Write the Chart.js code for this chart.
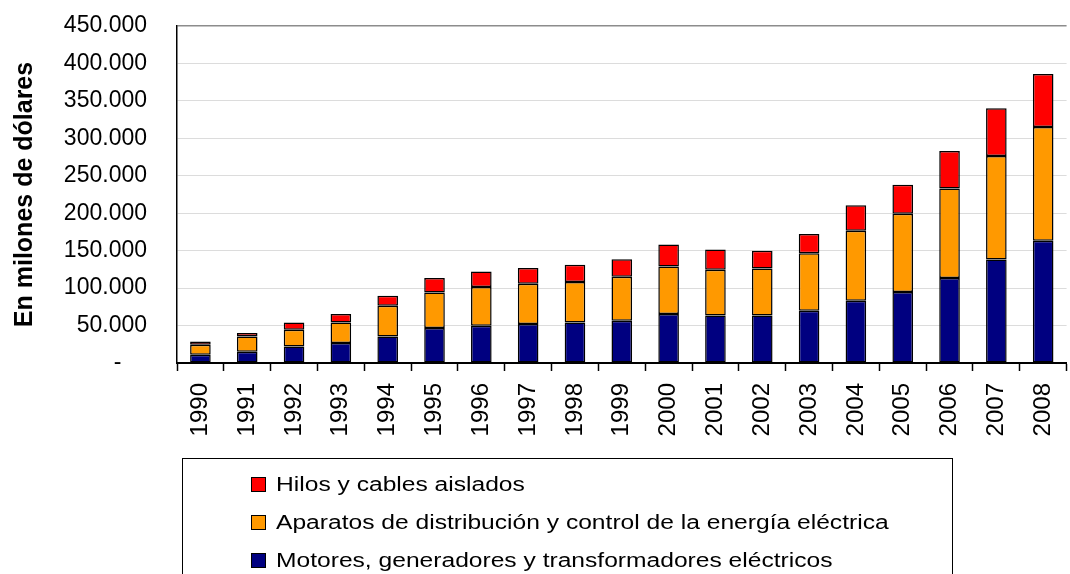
<!DOCTYPE html>
<html>
<head>
<meta charset="utf-8">
<script src="https://cdn.jsdelivr.net/npm/chart.js@4"></script>
<style>
  html, body { margin: 0; padding: 0; background: #fff; overflow: hidden; width: 1070px; height: 574px; }
  #wrap { position: relative; width: 1084px; height: 574px; }
  #c { position: absolute; left: 0; top: 0; }
  #legend { position: absolute; left: 182px; top: 458px; width: 771px; height: 140px; border: 1.5px solid #000; box-sizing: border-box; font-family: "Liberation Sans", Arial, sans-serif; font-size: 20px; color: #000; }
  .item { position: absolute; left: 68px; height: 26px; line-height: 26px; white-space: nowrap; }
  .mk { position: absolute; left: 0; top: 6px; width: 13px; height: 13px; border: 1px solid #000; }
  .tx { position: absolute; left: 25px; top: 0; transform: scaleX(1.23); transform-origin: left center; }
</style>
</head>
<body>
<div id="wrap">
  <canvas id="c" width="1084" height="574"></canvas>
  <div id="legend"></div>
</div>
<script>
const years = ["1990","1991","1992","1993","1994","1995","1996","1997","1998","1999","2000","2001","2002","2003","2004","2005","2006","2007","2008"];
const motores = [11100, 15100, 22100, 26700, 35500, 46700, 49800, 52000, 54200, 56400, 65400, 63500, 63500, 69800, 83100, 94700, 113400, 138200, 163100];
const aparatos = [13300, 20400, 22300, 27500, 40900, 47500, 51600, 53800, 53900, 58700, 63500, 61000, 62700, 76900, 93400, 104500, 119500, 138300, 152100];
const hilos = [4400, 4500, 9800, 11200, 13400, 19200, 20800, 20900, 23000, 23600, 29300, 27000, 23600, 25400, 34300, 38700, 50300, 63700, 70700];
const seriesNames = ["Motores, generadores y transformadores eléctricos", "Aparatos de distribución y control de la energía eléctrica", "Hilos y cables aislados"];
const seriesColors = ["#000080", "#FF9900", "#FF0000"];
const yTickValues = [0, 50000, 100000, 150000, 200000, 250000, 300000, 350000, 400000, 450000];
const zeroLabel = "-";
const yTitle = "En milones de dólares";

const FONT = '"Liberation Sans", Arial, sans-serif';

function fmt(v) {
  if (v === 0) return zeroLabel + "\u2007\u2007";
  return String(v).replace(/\B(?=(\d{3})+(?!\d))/g, ".");
}

const values = [motores, aparatos, hilos];
const datasets = values.map((d, i) => ({
  label: seriesNames[i],
  data: d,
  backgroundColor: seriesColors[i],
  borderColor: "#000",
  borderWidth: 1.5,
  borderSkipped: false,
  categoryPercentage: 1.0,
  barPercentage: 0.44
}));

const chart = new Chart(document.getElementById("c"), {
  type: "bar",
  data: { labels: years, datasets: datasets },
  options: {
    responsive: false,
    animation: false,
    devicePixelRatio: 1,
    layout: { padding: { top: 26, right: 1, bottom: 0, left: 0 } },
    plugins: { legend: { display: false }, tooltip: { enabled: false }, title: { display: false } },
    scales: {
      x: {
        stacked: true,
        grid: { display: true, drawOnChartArea: false, drawTicks: true, tickLength: 8, color: "#000", tickWidth: 1.5, offset: true },
        border: { display: true, color: "#000", width: 2 },
        ticks: { color: "#000", font: { family: FONT, size: 24 }, minRotation: 90, maxRotation: 90, padding: 12, autoSkip: false },
        afterFit: (s) => { s.height = 211; }
      },
      y: {
        stacked: true,
        min: 0,
        max: 450000,
        afterBuildTicks: (s) => { s.ticks = yTickValues.map(v => ({ value: v })); },
        grid: {
          drawTicks: true,
          tickLength: 27,
          tickColor: "rgba(0,0,0,0)",
          color: (ctx) => (ctx.tick && ctx.tick.value === 450000) ? "#8c8c8c" : "#dcdcdc",
          lineWidth: (ctx) => (ctx.tick && ctx.tick.value === 450000) ? 1.5 : 1
        },
        border: { display: true, color: "#000", width: 1.5 },
        ticks: { color: "#000", font: { family: FONT, size: 23 }, padding: 3, callback: (v) => fmt(v) },
        title: { display: true, text: yTitle, color: "#000", font: { family: FONT, size: 25, weight: "bold" }, padding: { top: 10, bottom: 0 } },
        afterFit: (s) => { s.width = 177; }
      }
    }
  }
});

// legend built from the chart's datasets (top series first)
const legendEl = document.getElementById("legend");
chart.data.datasets.slice().reverse().forEach((ds, i) => {
  const item = document.createElement("div");
  item.className = "item";
  item.style.top = (12 + i * 38) + "px";
  const mk = document.createElement("span");
  mk.className = "mk";
  mk.style.background = ds.backgroundColor;
  const tx = document.createElement("span");
  tx.className = "tx";
  tx.textContent = ds.label;
  item.appendChild(mk);
  item.appendChild(tx);
  legendEl.appendChild(item);
});
</script>
</body>
</html>
